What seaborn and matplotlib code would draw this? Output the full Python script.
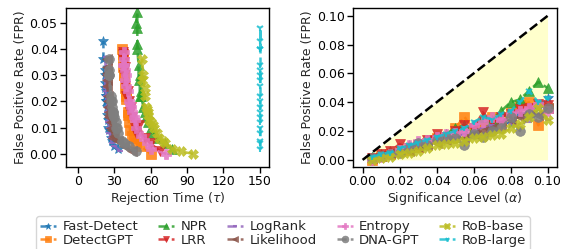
import matplotlib
matplotlib.use("Agg")
import matplotlib.pyplot as plt
import seaborn as sns

# significance levels used on the right panel
alpha = [0.005, 0.010, 0.015, 0.020, 0.025, 0.030, 0.035, 0.040, 0.045, 0.050,
         0.055, 0.060, 0.065, 0.070, 0.075, 0.080, 0.085, 0.090, 0.095, 0.100]

methods = ["Fast-Detect", "DetectGPT", "NPR", "LRR", "LogRank",
           "Likelihood", "Entropy", "DNA-GPT", "RoB-base", "RoB-large"]
markers = ["*", "s", "^", "v", "_", "<", "P", "o", "X", "1"]

# false positive rate per method at each alpha
fpr_fast = [0.002, 0.003, 0.005, 0.006, 0.009, 0.010, 0.013, 0.015, 0.018, 0.020,
            0.022, 0.020, 0.024, 0.022, 0.027, 0.025, 0.032, 0.030, 0.036, 0.043]
fpr_detectgpt = [0.000, 0.003, 0.004, 0.006, 0.007, 0.009, 0.012, 0.015, 0.016, 0.022,
                 0.030, 0.021, 0.025, 0.030, 0.024, 0.033, 0.038, 0.040, 0.024, 0.036]
fpr_npr = [0.002, 0.004, 0.006, 0.008, 0.010, 0.012, 0.014, 0.016, 0.018, 0.022,
           0.024, 0.022, 0.030, 0.028, 0.034, 0.040, 0.042, 0.048, 0.054, 0.050]
fpr_lrr = [0.001, 0.004, 0.006, 0.011, 0.008, 0.010, 0.014, 0.018, 0.016, 0.020,
           0.024, 0.022, 0.033, 0.026, 0.030, 0.032, 0.035, 0.036, 0.039, 0.038]
fpr_logrank = [0.001, 0.003, 0.004, 0.006, 0.008, 0.010, 0.012, 0.014, 0.012, 0.016,
               0.018, 0.020, 0.022, 0.024, 0.028, 0.025, 0.030, 0.026, 0.037, 0.028]
fpr_likelihood = [0.001, 0.003, 0.005, 0.007, 0.006, 0.009, 0.010, 0.012, 0.014, 0.016,
                  0.015, 0.018, 0.020, 0.022, 0.026, 0.028, 0.030, 0.033, 0.031, 0.036]
fpr_entropy = [0.000, 0.002, 0.004, 0.007, 0.010, 0.013, 0.014, 0.016, 0.018, 0.019,
               0.020, 0.024, 0.026, 0.030, 0.028, 0.032, 0.034, 0.036, 0.039, 0.034]
fpr_dna = [0.001, 0.003, 0.004, 0.005, 0.008, 0.012, 0.010, 0.014, 0.016, 0.015,
           0.010, 0.018, 0.016, 0.020, 0.022, 0.030, 0.020, 0.032, 0.030, 0.036]
fpr_rob_base = [0.000, 0.001, 0.002, 0.004, 0.005, 0.006, 0.008, 0.010, 0.011, 0.012,
                0.013, 0.015, 0.016, 0.017, 0.018, 0.022, 0.025, 0.030, 0.036, 0.028]
fpr_rob_large = [0.002, 0.004, 0.005, 0.008, 0.010, 0.012, 0.014, 0.016, 0.018, 0.020,
                 0.022, 0.026, 0.030, 0.028, 0.032, 0.034, 0.040, 0.048, 0.040, 0.043]

# average rejection time per method at each alpha
t_fast = [33, 30, 28, 27, 26, 25, 25, 24, 24, 23, 23, 23, 23, 23, 22, 22, 22, 22, 21, 21]
t_detectgpt = [60, 52, 48, 46, 45, 43, 42, 41, 41, 40, 38, 40, 39, 38, 40, 37, 37, 36, 40, 37]
t_npr = [78, 72, 65, 62, 60, 58, 56, 55, 54, 52, 52, 51, 51, 50, 50, 49, 49, 49, 49, 48]
t_lrr = [68, 60, 55, 50, 48, 47, 45, 44, 43, 42, 41, 40, 39, 39, 38, 38, 38, 37, 37, 37]
t_logrank = [35, 30, 28, 27, 26, 26, 25, 25, 25, 24, 24, 24, 23, 23, 23, 23, 23, 23, 23, 23]
t_likelihood = [45, 38, 33, 30, 29, 28, 27, 27, 26, 26, 26, 25, 25, 25, 24, 24, 24, 24, 24, 24]
t_entropy = [73, 60, 57, 52, 48, 47, 46, 45, 44, 43, 42, 41, 40, 40, 39, 39, 38, 38, 38, 37]
t_dna = [48, 42, 38, 36, 33, 31, 32, 30, 29, 29, 31, 28, 29, 28, 27, 26, 27, 26, 26, 26]
t_rob_base = [95, 85, 78, 72, 70, 67, 65, 63, 62, 60, 59, 58, 58, 57, 56, 55, 55, 54, 53, 53]
t_rob_large = [150] * 20

fprs = [fpr_fast, fpr_detectgpt, fpr_npr, fpr_lrr, fpr_logrank,
        fpr_likelihood, fpr_entropy, fpr_dna, fpr_rob_base, fpr_rob_large]
times = [t_fast, t_detectgpt, t_npr, t_lrr, t_logrank,
         t_likelihood, t_entropy, t_dna, t_rob_base, t_rob_large]

sns.set_style("ticks")
plt.rcParams["font.family"] = ["DejaVu Sans"]
plt.rcParams["font.size"] = 9
colors = sns.color_palette("tab10", 10)

fig, (ax1, ax2) = plt.subplots(1, 2, figsize=(5.63, 2.49), dpi=100)
fig.subplots_adjust(left=0.117, right=0.989, top=0.968, bottom=0.329, wspace=0.413)

for name, mk, c, f, t in zip(methods, markers, colors, fprs, times):
    thin = mk in "_1"
    kw = dict(color=c, marker=mk, linestyle="--", linewidth=1.8,
              markersize=5 if thin else 7,
              markeredgecolor=c, markerfacecolor=c,
              markeredgewidth=1.5 if thin else 0.5, alpha=0.85)
    sns.lineplot(x=t, y=f, sort=False, estimator=None, ax=ax1, label=name, **kw)
    sns.lineplot(x=alpha, y=f, sort=False, estimator=None, ax=ax2, **kw)

ax2.fill_between([0, 0.1], [0, 0], [0, 0.1], color="yellow", alpha=0.2, linewidth=0)
ax2.plot([0, 0.1], [0, 0.1], color="black", linestyle="--", linewidth=1.8)

ax1.set_xlim(-10, 158)
ax1.set_ylim(-0.005, 0.0556)
ax1.set_xticks([0, 30, 60, 90, 120, 150])
ax1.set_yticks([0, 0.01, 0.02, 0.03, 0.04, 0.05])
ax1.set_xlabel(r"Rejection Time ($\tau$)", labelpad=1)
ax1.set_ylabel("False Positive Rate (FPR)", labelpad=2)

ax2.set_xlim(-0.005, 0.105)
ax2.set_ylim(-0.005, 0.1055)
ax2.set_xticks([0, 0.02, 0.04, 0.06, 0.08, 0.10])
ax2.set_yticks([0, 0.02, 0.04, 0.06, 0.08, 0.10])
ax2.set_xlabel(r"Significance Level ($\alpha$)", labelpad=1)
ax2.set_ylabel("False Positive Rate (FPR)", labelpad=2)

for ax in (ax1, ax2):
    ax.tick_params(length=4, width=1, pad=2, labelsize=9, colors="black")
    for s in ax.spines.values():
        s.set_color("black")
        s.set_linewidth(1)
    ax.xaxis.set_major_formatter(plt.FormatStrFormatter("%.2f" if ax is ax2 else "%d"))
    ax.yaxis.set_major_formatter(plt.FormatStrFormatter("%.2f"))

handles, labels = ax1.get_legend_handles_labels()
ax1.get_legend().remove()
fig.legend(handles, labels, loc="upper center", bbox_to_anchor=(0.503, 0.158), ncol=5,
           fontsize=9.5, handlelength=1.2, handletextpad=0.5, columnspacing=1.5,
           labelspacing=0.05, markerscale=0.7, frameon=True, borderpad=0.3)

fig.savefig("out.png", dpi=100)
